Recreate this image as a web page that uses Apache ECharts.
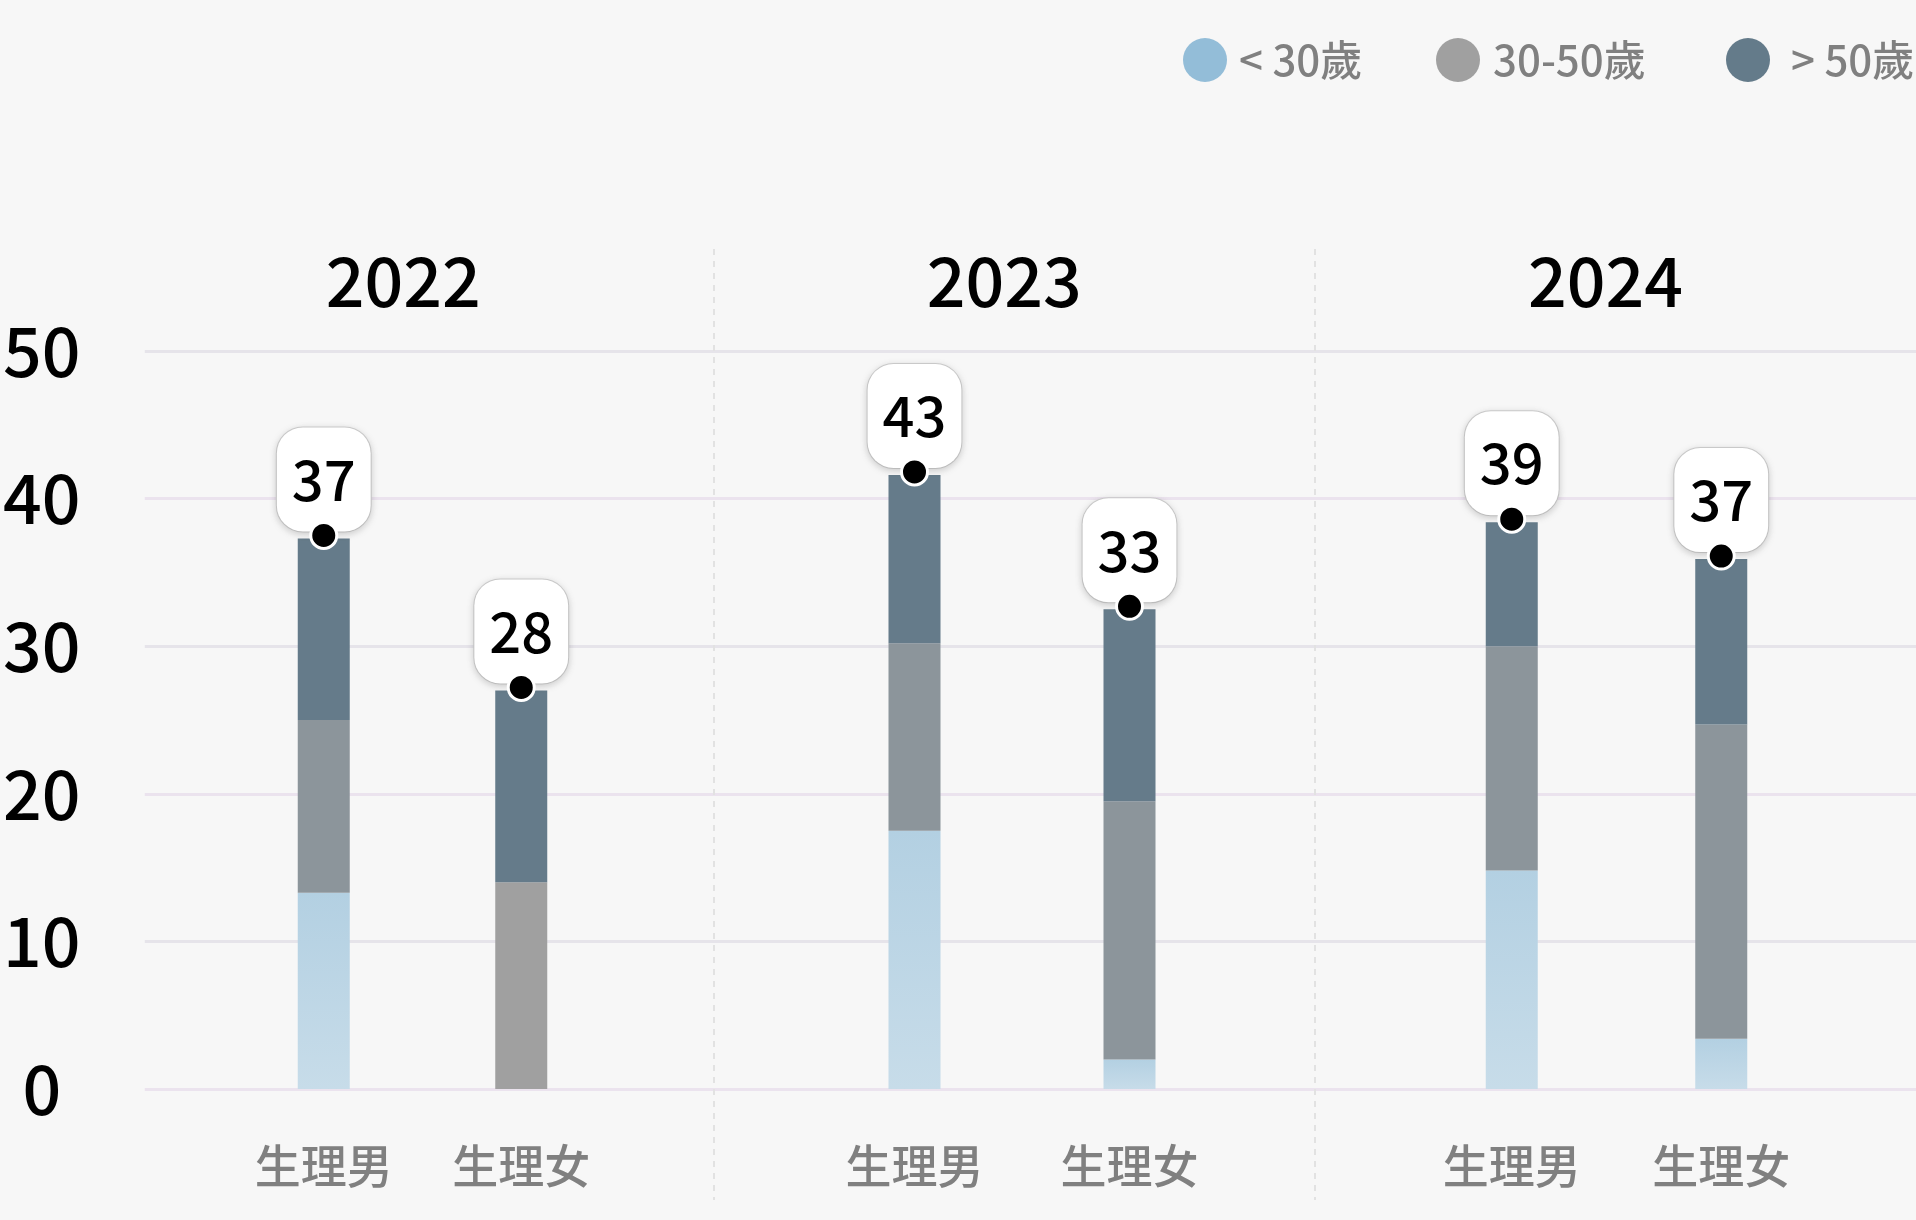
<!DOCTYPE html>
<html>
<head>
<meta charset="utf-8">
<title>年齡層分布</title>
<script src="https://cdn.jsdelivr.net/npm/echarts@6/dist/echarts.min.js"></script>
<style>
  html, body { margin: 0; padding: 0; background: #f7f7f7; }
  #chart { width: 1916px; height: 1220px; }
</style>
</head>
<body>
<div id="chart"></div>
<script>
// values, order: 2022 男, 2022 女, 2023 男, 2023 女, 2024 男, 2024 女
const years = ['2022', '2023', '2024']
const sexes = ['生理男', '生理女']
const ageGroups = ['< 30歲', '30-50歲', '> 50歲']
const under30 = [13.3, 0, 17.5, 2.0, 14.8, 3.4]
const age30to50 = [11.7, 14.0, 12.7, 17.5, 15.2, 21.3]
const over50 = [12.3, 13.0, 11.4, 13.0, 8.4, 11.2]
// numbers printed in the white boxes
const totalLabels = [37, 28, 43, 33, 39, 37]
const yTicks = [0, 10, 20, 30, 40, 50]

const FONT = 'Noto Sans CJK TC'
const PLOT_TOP = 351
const PLOT_BOTTOM = 131
// one grid per year, so each pair of bars sits where it does in the picture
const yearGrids = [
  { left: 225, width: 395 },
  { left: 807, width: 430 },
  { left: 1407, width: 419 }
]
const legendColors = ['#93bdd8', '#a0a0a0', '#647b8a']
const legendLefts = [1178, 1431, 1721]
const legendTextPad = [7, 8, 16]

const yMin = yTicks[0]
const yMax = yTicks[yTicks.length - 1]
const yStep = yTicks[1] - yTicks[0]

const chart = echarts.init(document.getElementById('chart'))

const grids = [
  // 0: y axis labels + horizontal split lines
  { left: 140, right: 0, top: PLOT_TOP, bottom: PLOT_BOTTOM },
  // 1: year labels + dashed separators
  { left: 112.7, right: 0, top: 249, bottom: 20 }
].concat(yearGrids.map(g => ({ left: g.left, width: g.width, top: PLOT_TOP, bottom: PLOT_BOTTOM })))

const xAxes = [
  { gridIndex: 0, type: 'value', show: false },
  {
    gridIndex: 1,
    type: 'category',
    data: years,
    position: 'top',
    boundaryGap: true,
    axisLine: { show: false },
    axisTick: { show: false },
    axisLabel: {
      inside: true,
      margin: 32,
      verticalAlign: 'middle',
      fontSize: 68,
      fontWeight: 500,
      color: '#000',
      padding: [0, 20, 0, 0]
    },
    splitLine: {
      show: true,
      showMinLine: false,
      showMaxLine: false,
      lineStyle: { color: '#e2e2e2', width: 2, type: [6, 6] }
    }
  }
].concat(years.map((y, i) => ({
  gridIndex: i + 2,
  type: 'category',
  data: sexes,
  axisLine: { show: false },
  axisTick: { show: false },
  axisLabel: { margin: 77, verticalAlign: 'middle', fontSize: 46, fontWeight: 500, color: '#808080' }
})))

const yAxes = [
  {
    gridIndex: 0,
    type: 'value',
    min: yMin,
    max: yMax,
    interval: yStep,
    axisLine: { show: false },
    axisTick: { show: false },
    axisLabel: { fontSize: 68, fontWeight: 500, color: '#000', align: 'center', margin: 103 },
    splitLine: { lineStyle: { color: ['#ebe3ee', '#e6e4ea'], width: 3 } }
  },
  { gridIndex: 1, type: 'value', show: false }
].concat(years.map((y, i) => ({
  gridIndex: i + 2, type: 'value', min: yMin, max: yMax, interval: yStep, show: false
})))

const blueGradient = new echarts.graphic.LinearGradient(0, 0, 0, 1, [
  { offset: 0, color: '#b3d0e2' },
  { offset: 1, color: '#c7dce9' }
])

const series = []
years.forEach((year, i) => {
  const idx = [2 * i, 2 * i + 1]
  const common = {
    type: 'bar',
    xAxisIndex: i + 2,
    yAxisIndex: i + 2,
    stack: 'y' + year,
    barWidth: 52
  }
  series.push(Object.assign({}, common, {
    name: ageGroups[0],
    data: idx.map(k => under30[k]),
    itemStyle: { color: blueGradient }
  }))
  series.push(Object.assign({}, common, {
    name: ageGroups[1],
    // grey looks plain when there is no blue part under it
    data: idx.map(k => ({
      value: age30to50[k],
      itemStyle: { color: under30[k] > 0 ? '#8c959b' : '#a0a0a0' }
    }))
  }))
  series.push(Object.assign({}, common, {
    name: ageGroups[2],
    data: idx.map(k => over50[k]),
    itemStyle: { color: '#657b8a' }
  }))

  const tops = idx.map(k => under30[k] + age30to50[k] + over50[k])
  // white boxes with the totals
  series.push({
    type: 'scatter',
    xAxisIndex: i + 2,
    yAxisIndex: i + 2,
    data: tops,
    symbolSize: 26,
    z: 3,
    silent: true,
    itemStyle: { color: 'rgba(0,0,0,0)', opacity: 1 },
    label: {
      show: true,
      position: 'top',
      distance: -6,
      formatter: p => String(totalLabels[idx[p.dataIndex]]),
      fontSize: 56,
      fontWeight: 500,
      color: '#000',
      opacity: 1,
      backgroundColor: '#fff',
      borderColor: '#d0d0d0',
      borderWidth: 1,
      borderRadius: 26,
      padding: [24, 15, 24, 15],
      shadowColor: 'rgba(0,0,0,0.15)',
      shadowBlur: 6,
      shadowOffsetY: 2
    }
  })
  // black dots on top of the boxes
  series.push({
    type: 'scatter',
    xAxisIndex: i + 2,
    yAxisIndex: i + 2,
    data: tops,
    symbolSize: 26,
    symbolOffset: [0, -3],
    z: 4,
    silent: true,
    itemStyle: { color: '#000', borderColor: '#fff', borderWidth: 3, opacity: 1 }
  })
})

const legends = ageGroups.map((name, i) => ({
  data: [{ name: name, itemStyle: { color: legendColors[i] } }],
  left: legendLefts[i],
  top: 33,
  icon: 'circle',
  itemWidth: 44,
  itemHeight: 44,
  selectedMode: false,
  textStyle: { fontSize: 42, fontWeight: 500, color: '#808080', padding: [0, 0, 0, legendTextPad[i]] }
}))

chart.setOption({
  backgroundColor: '#f7f7f7',
  animation: false,
  textStyle: { fontFamily: FONT },
  legend: legends,
  grid: grids,
  xAxis: xAxes,
  yAxis: yAxes,
  series: series
})

window.addEventListener('resize', () => chart.resize())
</script>
</body>
</html>
